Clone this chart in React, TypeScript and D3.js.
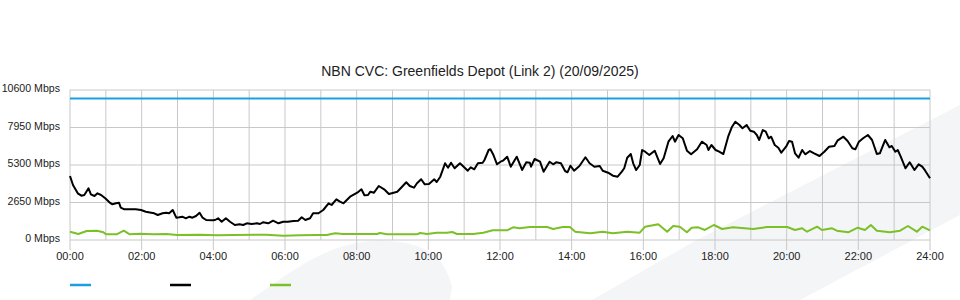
import React from "react";
import * as d3 from "d3";

const title = "NBN CVC: Greenfields Depot (Link 2) (20/09/2025)";
const yTicks = [0, 2650, 5300, 7950, 10600];
const xTickHours = [0, 2, 4, 6, 8, 10, 12, 14, 16, 18, 20, 22, 24];

// Capacity (blue) in Mbps
const capacityMinutes = [0, 1440];
const capacityValues = [10000, 10000];

// Traffic (black) — minutes since midnight, Mbps
const trafficMinutes = [0,5,13,19,24,31,35,41,46,52,59,66,71,77,82,85,91,100,110,119,127,136,141,147,155,161,166,172,178,183,188,194,200,205,211,217,222,228,239,243,248,254,261,268,276,284,290,296,304,313,318,323,332,340,349,357,365,374,382,388,394,402,407,416,424,433,438,446,452,458,469,481,488,493,499,503,509,517,526,534,542,548,556,563,569,576,581,588,594,601,610,614,620,628,633,638,644,653,660,666,671,677,683,691,694,701,704,709,715,721,725,732,738,748,757,764,770,772,778,787,793,803,809,814,822,829,833,838,844,853,863,870,878,887,892,901,909,917,924,928,933,939,943,948,954,958,963,970,979,988,994,1002,1009,1013,1019,1026,1033,1040,1050,1058,1066,1069,1074,1081,1087,1094,1102,1108,1114,1121,1126,1133,1139,1145,1150,1154,1160,1165,1170,1174,1180,1186,1191,1199,1204,1209,1214,1220,1226,1231,1239,1246,1255,1263,1271,1280,1285,1295,1302,1310,1315,1321,1328,1336,1343,1351,1356,1365,1372,1376,1382,1386,1391,1399,1406,1414,1421,1427,1432,1440];
const trafficValues = [4523,3887,3300,3131,3180,3653,3230,3109,3300,3180,2947,2664,2523,2593,2636,2283,2169,2169,2169,2120,2000,1929,1887,1767,1887,1929,1887,2120,1576,1604,1647,1533,1647,1576,1696,1929,1576,1413,1392,1413,1533,1293,1533,1293,1060,1109,1060,1180,1131,1180,1131,1251,1180,1364,1180,1293,1293,1343,1364,1604,1413,1533,1887,1887,2120,2593,2473,2876,2707,2593,3060,3343,3583,3159,3180,3413,3343,3816,3583,3251,3343,3413,3767,4078,3816,3696,4007,4290,3936,3957,4290,4099,4473,5420,5109,5463,5067,5420,5138,4897,5138,4996,5420,5463,5653,6360,6409,6007,5349,5533,5604,5887,5180,5887,4947,5491,5463,5180,5724,5533,4827,5533,5349,5491,5420,4876,4784,5250,4897,5229,5844,5420,5180,5229,4897,4756,4544,4473,4827,5067,5816,6077,5420,4947,5300,6360,6240,6007,6311,5371,5774,6947,7349,6947,7420,7187,6311,6056,6409,6947,6713,6360,6713,6360,6240,6077,7300,7964,8360,8127,7893,8127,7724,7653,7420,7067,7773,7653,7187,7300,6713,6523,6169,6593,6996,6947,6127,5816,6360,6056,6289,6127,5936,6240,6593,6643,7017,7300,6996,6480,6409,6947,7187,7420,7067,6077,6127,7067,6551,6643,6240,6360,5887,5067,5491,4947,5349,5180,4897,4360];

// Second traffic series (green) — minutes since midnight, Mbps
const secondMinutes = [0,14,28,45,56,61,78,90,100,117,139,162,179,218,246,273,329,357,385,413,430,444,457,514,519,531,581,586,598,614,631,640,648,675,692,708,732,742,753,770,799,809,825,837,846,871,892,909,933,954,963,985,1000,1010,1021,1033,1041,1052,1063,1078,1092,1110,1144,1167,1201,1214,1226,1234,1251,1259,1276,1284,1303,1319,1331,1341,1351,1373,1390,1403,1418,1427,1440];
const secondValues = [587,424,636,657,544,403,403,657,403,445,403,424,353,375,332,353,375,304,332,353,353,473,424,424,495,403,403,495,424,516,516,565,424,424,516,685,685,897,827,919,919,777,919,919,587,473,587,473,587,516,940,1109,587,989,940,544,869,897,707,1060,777,897,777,919,919,707,827,587,940,707,827,657,544,869,707,1060,657,544,657,989,587,940,685];

const seriesColors = ["#1b9fe0", "#000000", "#7cc028"];

const FONT = "'Liberation Sans', Arial, Helvetica, sans-serif";

export default function App() {
  const W = 960, H = 300;
  const left = 70, right = 930, top = 90, bottom = 240;
  const x = d3.scaleLinear().domain([0, 1440]).range([left, right]);
  const y = d3.scaleLinear().domain([0, 10600]).range([bottom, top]);

  const mk = (ms: number[], vs: number[]) =>
    ms.map((m, i) => [m, vs[i]] as [number, number]);
  const line = d3.line<[number, number]>().x(d => x(d[0])).y(d => y(d[1]));

  const series = [
    mk(capacityMinutes, capacityValues),
    mk(trafficMinutes, trafficValues),
    mk(secondMinutes, secondValues),
  ];

  const hours = d3.range(0, 25);
  const fmt = (h: number) => (h < 10 ? "0" : "") + h + ":00";

  return (
    <svg width={W} height={H} style={{ position: "absolute", left: 0, top: 0 }} fontFamily={FONT}>
      <rect x={0} y={0} width={W} height={H} fill="#ffffff" />
      {/* watermark */}
      <path d="M250,300 C290,272 328,243 372,241 C418,239 444,252 452,287 L450,300 Z" fill="#f4f5f7" />
      <path d="M592,300 L693,242 L960,105 L960,215 L800,300 Z" fill="#f4f5f7" />

      <text x={480} y={76} textAnchor="middle" fontSize={14} fill="#222">{title}</text>

      {/* grid */}
      {hours.map(h => (
        <line key={"v" + h} x1={x(h * 60)} x2={x(h * 60)} y1={top} y2={bottom} stroke="#c8c8c8" strokeWidth={1} />
      ))}
      {yTicks.map(v => (
        <line key={"h" + v} x1={left} x2={right} y1={y(v)} y2={y(v)} stroke="#c8c8c8" strokeWidth={1} />
      ))}
      {xTickHours.map(h => (
        <g key={"t" + h}>
          <line x1={x(h * 60)} x2={x(h * 60)} y1={bottom} y2={bottom + 10} stroke="#c8c8c8" strokeWidth={1} />
          <text x={x(h * 60)} y={260} textAnchor="middle" fontSize={11} fill="#222">{fmt(h)}</text>
        </g>
      ))}
      {yTicks.map(v => (
        <text key={"yl" + v} x={60} y={y(v) + 2} textAnchor="end" fontSize={10.6} fill="#222">{v + " Mbps"}</text>
      ))}

      {series.map((s, i) => (
        <path key={"s" + i} d={line(s) || ""} fill="none" stroke={seriesColors[i]} strokeWidth={2} strokeLinejoin="round" />
      ))}

      {/* legend */}
      {seriesColors.map((c, i) => (
        <line key={"lg" + i} x1={70 + i * 100} x2={91 + i * 100} y1={285} y2={285} stroke={c} strokeWidth={2.5} />
      ))}
    </svg>
  );
}
